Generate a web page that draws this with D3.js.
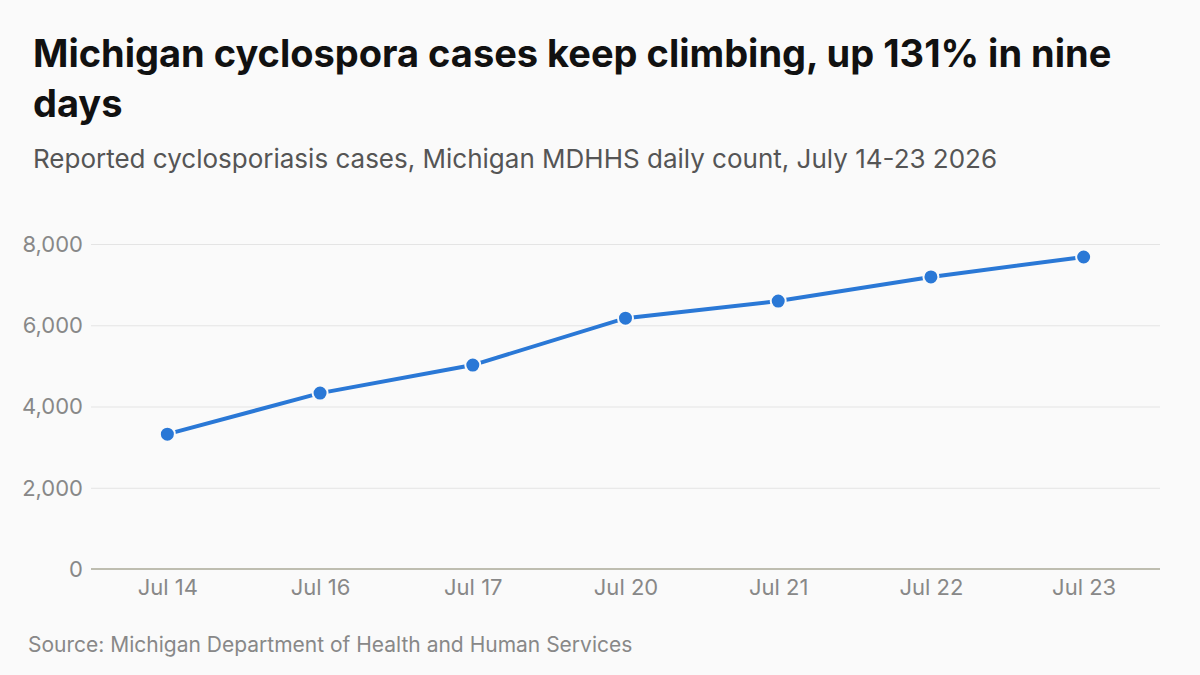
<!doctype html>
<meta charset="utf-8">
<title>Michigan cyclospora cases</title>
<style>
body { margin: 0; background: #fafafa; }
svg { font-family: Inter, "Noto Sans", sans-serif; }
.title { font-weight: 700; font-size: 38px; fill: #111; }
.sub { font-size: 26px; fill: #555; }
.src { font-size: 21px; fill: #888; }
.tick text { font-family: Inter, "Noto Sans", sans-serif; font-size: 22px; fill: #888; }
</style>
<script src="https://cdn.jsdelivr.net/npm/d3@7"></script>
<body>
<script>
// values
var dates = ["Jul 14", "Jul 16", "Jul 17", "Jul 20", "Jul 21", "Jul 22", "Jul 23"];
var cases = [3320, 4330, 5020, 6175, 6595, 7190, 7680];
var yTicks = [0, 2000, 4000, 6000, 8000];

var W = 1200, H = 675;
var m = {left: 91, right: 1160, top: 244, bottom: 569};

var svg = d3.select("body").append("svg").attr("width", W).attr("height", H);
svg.append("rect").attr("width", W).attr("height", H).attr("fill", "#fafafa");

svg.append("text").attr("class", "title").attr("x", 33).attr("y", 67)
  .text("Michigan cyclospora cases keep climbing, up 131% in nine");
svg.append("text").attr("class", "title").attr("x", 33).attr("y", 117).text("days");
svg.append("text").attr("class", "sub").attr("x", 33).attr("y", 168)
  .text("Reported cyclosporiasis cases, Michigan MDHHS daily count, July 14-23 2026");
svg.append("text").attr("class", "src").attr("x", 28).attr("y", 652)
  .text("Source: Michigan Department of Health and Human Services");

var x = d3.scalePoint().domain(dates).range([m.left, m.right]).padding(0.5);
var y = d3.scaleLinear().domain([0, 8000]).range([m.bottom, m.top]);

// y axis + grid
var ya = svg.append("g").attr("transform", "translate(" + m.left + ",0)")
  .call(d3.axisLeft(y).tickValues(yTicks).tickSize(-(m.right - m.left)).tickPadding(8)
    .tickFormat(d3.format(",")));
ya.select(".domain").remove();
ya.selectAll(".tick line").attr("stroke", "#e4e4e4").attr("stroke-width", 1);
ya.selectAll(".tick text").attr("dy", "0.34em");

// baseline
svg.append("line").attr("x1", m.left).attr("x2", m.right)
  .attr("y1", y(0)).attr("y2", y(0)).attr("stroke", "#bebdb0").attr("stroke-width", 2);

// x axis
var xa = svg.append("g").attr("transform", "translate(0," + m.bottom + ")")
  .call(d3.axisBottom(x).tickSize(0).tickPadding(10));
xa.select(".domain").remove();

var line = d3.line().x(function(d, i) { return x(dates[i]); }).y(function(d) { return y(d); });
svg.append("path").datum(cases).attr("d", line)
  .attr("fill", "none").attr("stroke", "#2a78d6").attr("stroke-width", 4);

svg.selectAll("circle.pt").data(cases).enter().append("circle")
  .attr("cx", function(d, i) { return x(dates[i]); })
  .attr("cy", function(d) { return y(d); })
  .attr("r", 7.5).attr("fill", "#2a78d6").attr("stroke", "#fafafa").attr("stroke-width", 2);
</script>
</body>
